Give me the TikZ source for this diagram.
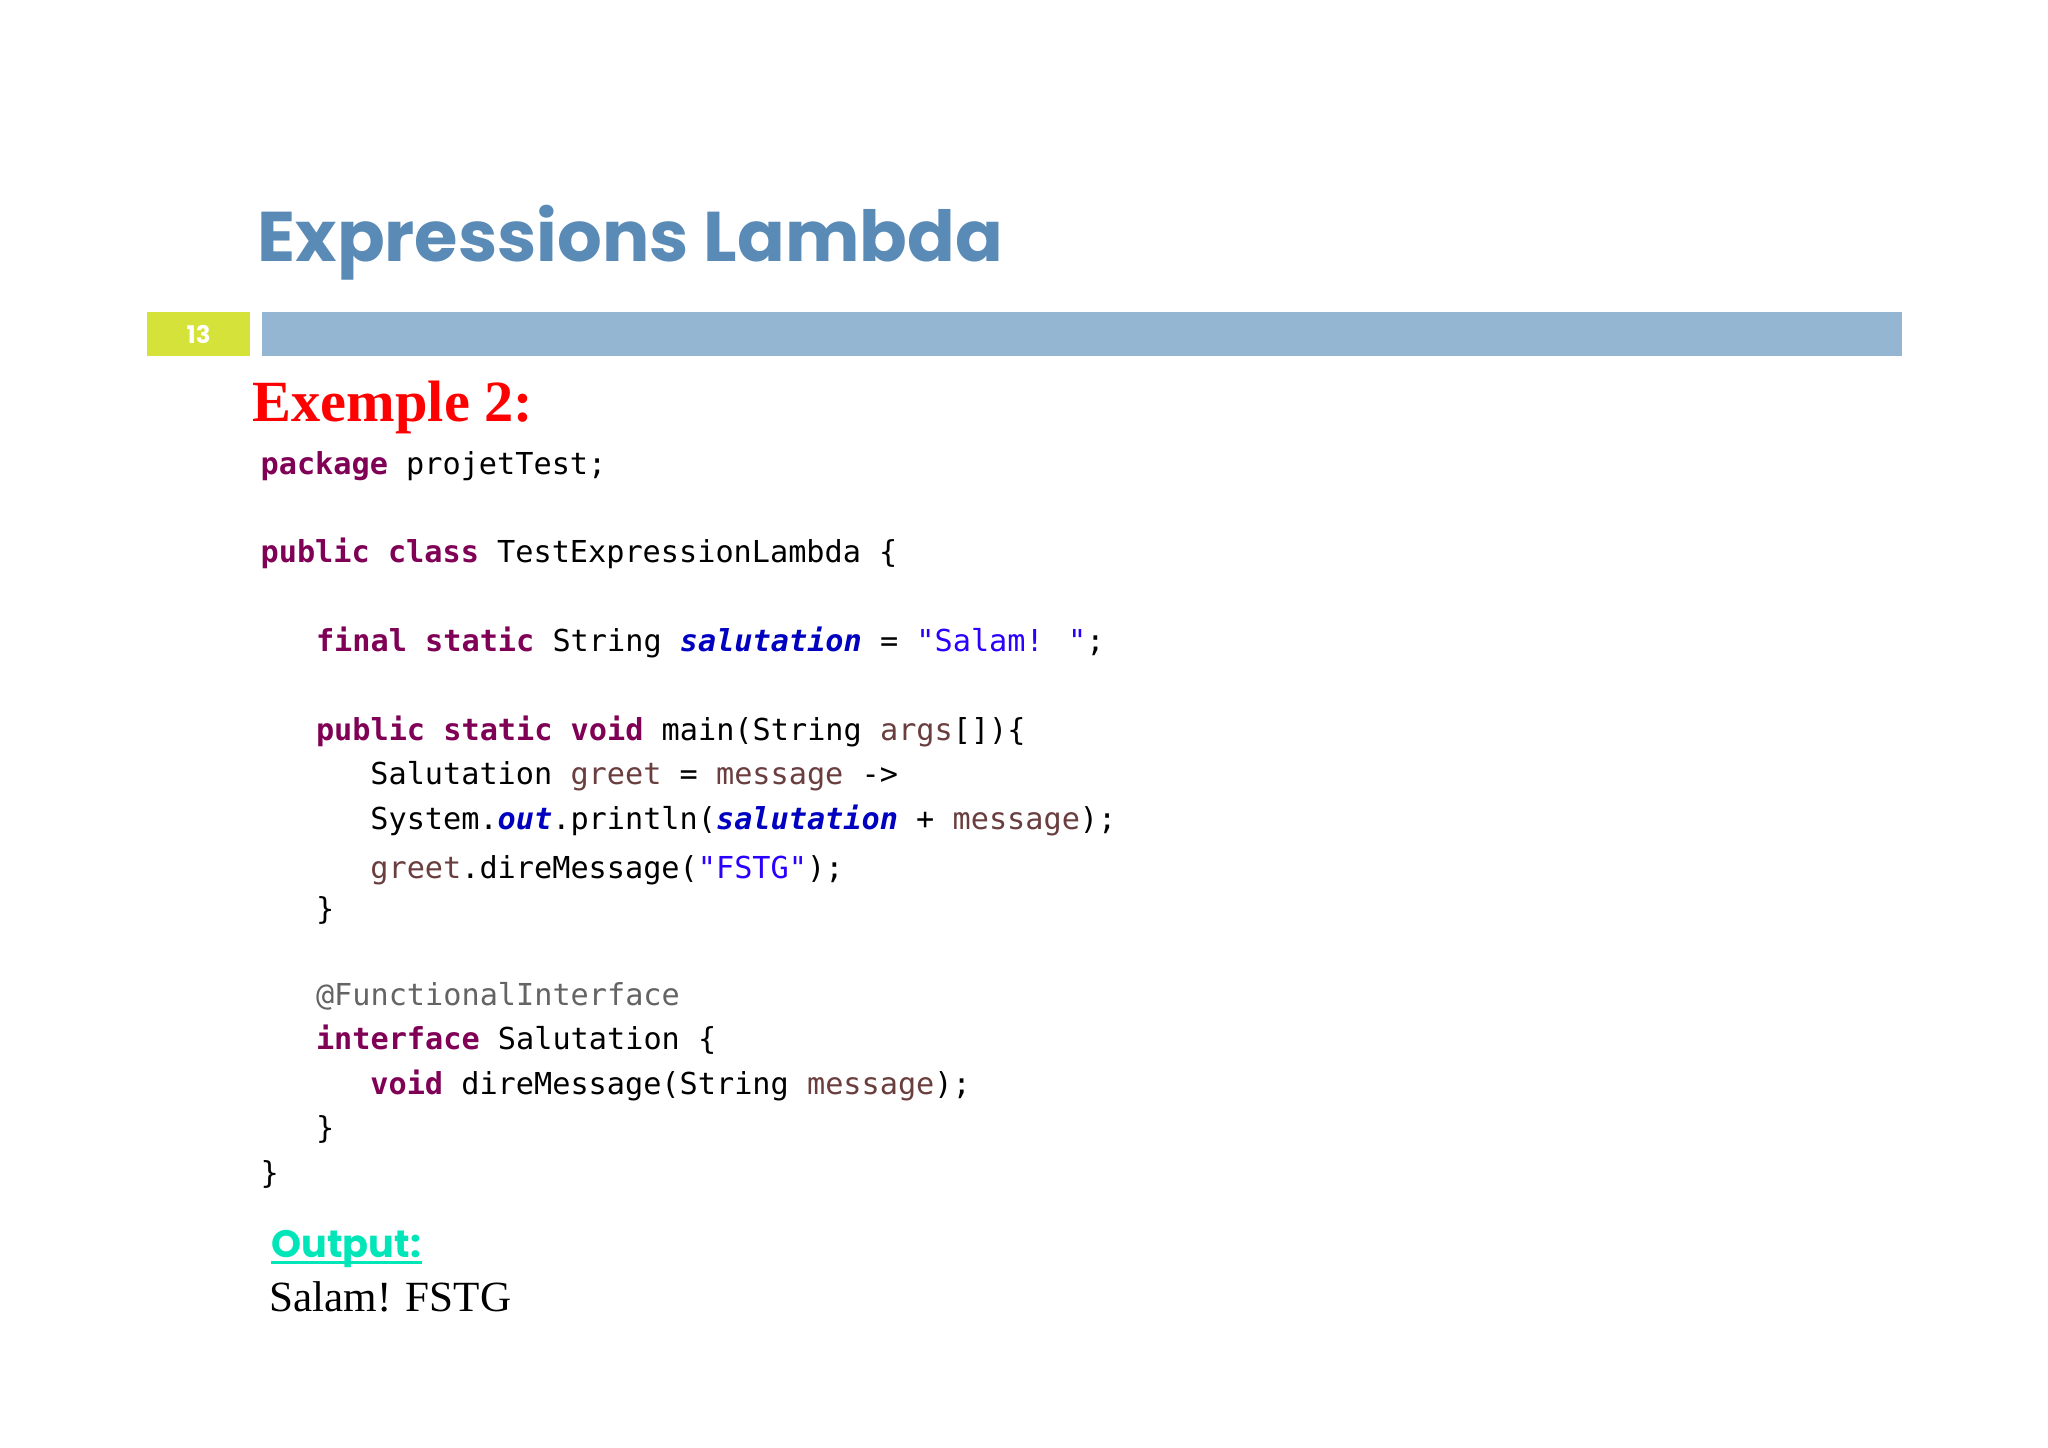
\documentclass[tikz,border=0pt]{standalone}
\usepackage{fontspec}
\setmainfont{Liberation Serif}
\newfontfamily\titlefont{Poppins}
\newfontfamily\codefont{DejaVu Sans Mono}
\definecolor{titleblue}{HTML}{5A8AB6}
\definecolor{barblue}{HTML}{94B6D2}
\definecolor{numgreen}{HTML}{D4E23A}
\definecolor{kw}{HTML}{7F0055}
\definecolor{fld}{HTML}{0000C0}
\definecolor{str}{HTML}{2A00FF}
\definecolor{loc}{HTML}{6A3E3E}
\definecolor{ann}{HTML}{646464}
\definecolor{outc}{HTML}{00E6B8}
\newcommand{\K}[1]{\textcolor{kw}{\bfseries #1}}
\newcommand{\F}[1]{\textcolor{fld}{\bfseries\itshape #1}}
\newcommand{\Sx}[1]{\textcolor{str}{#1}}
\newcommand{\Lv}[1]{\textcolor{loc}{#1}}
\tikzset{codeline/.style={anchor=base west,inner sep=0pt,font=\codefont\fontsize{8.7}{10}\selectfont}}
\begin{document}
\begin{tikzpicture}
\useasboundingbox[fill=white] (0,0) rectangle (20.72,-14.64);
\node[anchor=base west,inner sep=0pt,text=titleblue] (title) at (2.6,-2.65)
  {\resizebox{7.54cm}{!}{\titlefont\bfseries Expressions Lambda}};
\fill[numgreen] (1.49,-3.16) rectangle (2.53,-3.60);
\node[text=white,font=\titlefont\bfseries\fontsize{7}{8}\selectfont] (num) at (2.01,-3.38) {13};
\fill[barblue] (2.65,-3.16) rectangle (19.24,-3.60);
\node[anchor=base west,inner sep=0pt,text=red,font=\bfseries\fontsize{16.8}{20}\selectfont] (ex) at (2.55,-4.26) {Exemple 2:};
\node[codeline] (l1) at (2.63,-4.80) {\K{package} projetTest;};
\node[codeline] (l2) at (2.63,-5.69) {\K{public} \K{class} TestExpressionLambda \{};
\node[codeline] (l3) at (3.19,-6.59) {\K{final} \K{static} String \F{salutation} = \Sx{"Salam! "};};
\node[codeline] (l4) at (3.19,-7.49) {\K{public} \K{static} \K{void} main(String \Lv{args}[])\{};
\node[codeline] (l5) at (3.74,-7.94) {Salutation \Lv{greet} = \Lv{message} ->};
\node[codeline] (l6) at (3.74,-8.39) {System.\F{out}.println(\F{salutation} + \Lv{message});};
\node[codeline] (l7) at (3.74,-8.89) {\Lv{greet}.direMessage(\Sx{"FSTG"});};
\node[codeline] (l8) at (3.19,-9.30) {\}};
\node[codeline] (l9) at (3.19,-10.17) {\textcolor{ann}{@FunctionalInterface}};
\node[codeline] (l10) at (3.19,-10.62) {\K{interface} Salutation \{};
\node[codeline] (l11) at (3.74,-11.07) {\K{void} direMessage(String \Lv{message});};
\node[codeline] (l12) at (3.19,-11.52) {\}};
\node[codeline] (l13) at (2.63,-11.97) {\}};
\node[anchor=base west,inner sep=0pt,text=outc,font=\titlefont\bfseries\fontsize{11}{13}\selectfont] (out) at (2.74,-12.72) {Output:};
\draw[outc,line width=0.9pt] ([yshift=-1.5pt]out.base west) -- ([yshift=-1.5pt]out.base east);
\node[anchor=base west,inner sep=0pt,font=\fontsize{12.4}{15}\selectfont] (res) at (2.72,-13.27) {Salam! FSTG};
\end{tikzpicture}
\end{document}
